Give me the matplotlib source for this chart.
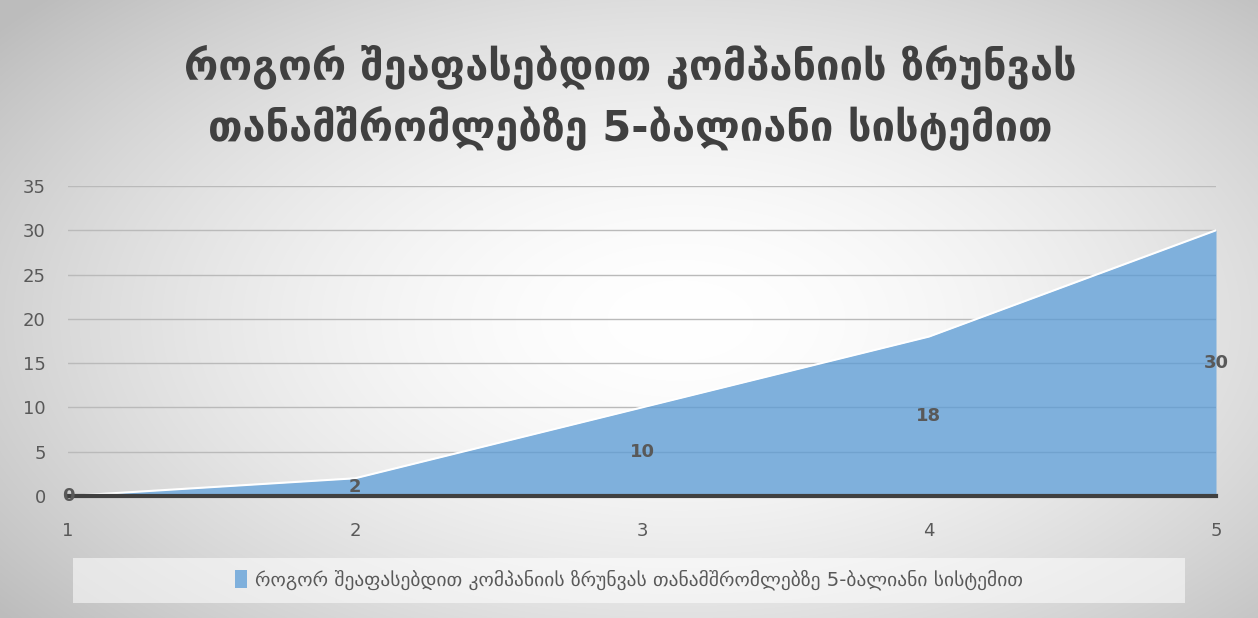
import numpy as np
import matplotlib.pyplot as plt
from matplotlib.patches import Patch, Rectangle

categories = [1, 2, 3, 4, 5]
values = [0, 2, 10, 18, 30]
yticks = [0, 5, 10, 15, 20, 25, 30, 35]
title_text = "როგორ შეაფასებდით კომპანიის ზრუნვას\nთანამშრომლებზე 5-ბალიანი სისტემით"
series_name = "როგორ შეაფასებდით კომპანიის ზრუნვას თანამშრომლებზე 5-ბალიანი სისტემით"

plt.rcParams['font.family'] = ['DejaVu Sans']
W, H = 1258, 618
fig = plt.figure(figsize=(W / 100, H / 100), dpi=100)

# radial gradient background
bg = fig.add_axes([0, 0, 1, 1])
yy, xx = np.mgrid[0:H, 0:W]
d = np.sqrt(((xx - 680) / 780.0) ** 2 + ((yy - 320) / 430.0) ** 2)
shade = 1.0 - 0.22 * np.clip(d, 0, 1.3) ** 1.7
shade = np.clip(shade, 0.74, 1.0)
img = np.dstack([shade, shade, shade])
bg.imshow(img, extent=[0, W, H, 0], aspect='auto')
bg.set_xlim(0, W)
bg.set_ylim(H, 0)
bg.axis('off')

# legend background box
bg.add_patch(Rectangle((73, 558), 1112, 45, facecolor='white', alpha=0.55, edgecolor='none'))

ax = fig.add_axes([68 / W, 1 - 496 / H, (1216 - 68) / W, (496 - 186) / H])
ax.patch.set_alpha(0)
area = ax.fill_between(categories, values, 0, color='#7fb0dc', linewidth=0, zorder=2)
ax.plot(categories, values, color='white', linewidth=1.5, zorder=3)
ax.set_xlim(1, 5)
ax.set_ylim(0, 35)
ax.set_yticks(yticks)
ax.set_xticks(categories)
ax.grid(axis='y', color='#bababa', linewidth=1, zorder=0)
ax.set_axisbelow(True)
for t in yticks[1:]:
    ln = ax.axhline(t, color='#1f4e79', alpha=0.14, linewidth=1, zorder=2.5)
    ln.set_clip_path(area.get_paths()[0], area.get_transform())
for s in ['top', 'right', 'left']:
    ax.spines[s].set_visible(False)
ax.spines['bottom'].set_color('#404040')
ax.spines['bottom'].set_linewidth(3)
ax.spines['bottom'].set_zorder(4)
ax.tick_params(axis='both', length=0, labelsize=13, labelcolor='#595959')
ax.tick_params(axis='y', pad=16)
ax.tick_params(axis='x', pad=19)

for x, v in zip(categories, values):
    ax.text(x, v / 2, str(v), ha='center', va='center', fontsize=13,
            fontweight='bold', color='#595959', zorder=5)

fig.text(630 / W, 1 - 97 / H, title_text, ha='center', va='center',
         fontsize=30, fontweight='bold', color='#404040', linespacing=1.45)

fig.legend(handles=[Patch(facecolor='#7fb0dc', edgecolor='none')], labels=[series_name],
           loc='center', bbox_to_anchor=(629 / W, 1 - 580 / H), frameon=False,
           fontsize=14, handlelength=0.6, handleheight=1.0, handletextpad=0.4,
           labelcolor='#595959')

fig.savefig('out.png', dpi=100)
